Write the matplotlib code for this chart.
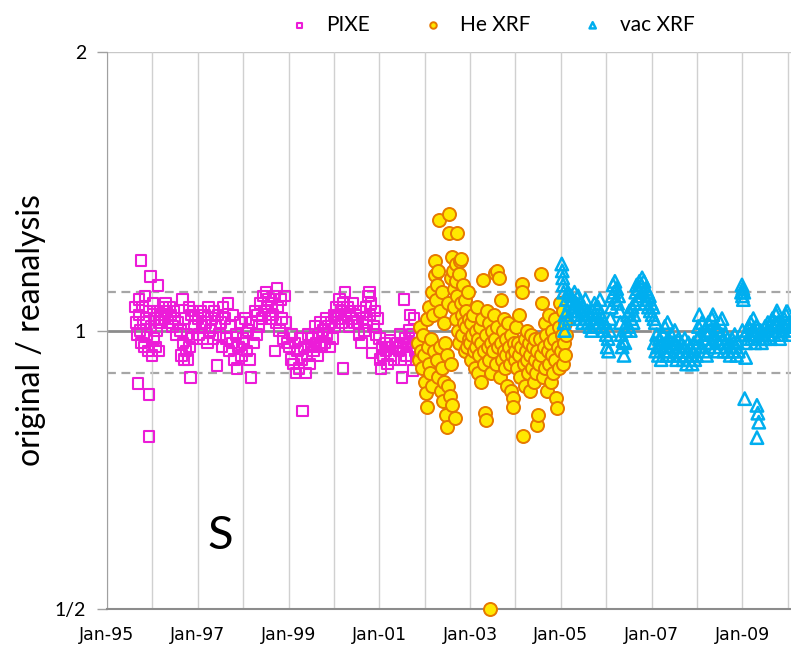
import matplotlib
matplotlib.use("Agg")
import matplotlib.pyplot as plt
from matplotlib.ticker import FixedLocator, FuncFormatter, NullFormatter

# ratio original / reanalysis for sulfur, x = decimal year
pixe = [
    (1995.62, 1.06), (1995.64, 1.02), (1995.66, 0.99), (1995.68, 0.876), (1995.70, 1.08), (1995.71, 1.04),
    (1995.73, 1.00), (1995.75, 1.19), (1995.76, 0.97), (1995.78, 1.06), (1995.80, 1.02), (1995.82, 0.96),
    (1995.84, 1.09), (1995.86, 1.03), (1995.88, 0.99), (1995.90, 0.95), (1995.92, 0.853), (1995.93, 0.768),
    (1995.94, 1.05), (1995.96, 1.144), (1995.97, 1.01), (1995.99, 0.94), (1996.01, 1.07), (1996.03, 0.98),
    (1996.05, 1.03), (1996.07, 0.96), (1996.09, 1.00), (1996.11, 1.05), (1996.13, 1.118), (1996.14, 0.95),
    (1996.16, 1.02), (1996.20, 1.04), (1996.23, 1.06), (1996.26, 1.03), (1996.29, 1.07), (1996.32, 1.05),
    (1996.35, 1.02), (1996.38, 1.06), (1996.41, 1.04), (1996.44, 1.01), (1996.47, 1.05), (1996.50, 1.03),
    (1996.53, 0.99), (1996.56, 1.02), (1996.62, 1.00), (1996.64, 0.94), (1996.66, 1.08), (1996.68, 0.97),
    (1996.70, 0.93), (1996.72, 1.03), (1996.74, 0.95), (1996.76, 0.99), (1996.78, 0.93), (1996.80, 1.06),
    (1996.82, 0.96), (1996.84, 0.89), (1996.86, 1.04), (1996.88, 0.98), (1996.90, 1.05), (1996.92, 1.01),
    (1997.00, 1.03), (1997.03, 0.99), (1997.06, 1.05), (1997.09, 1.01), (1997.12, 0.98), (1997.15, 1.04),
    (1997.18, 1.02), (1997.21, 0.97), (1997.24, 1.06), (1997.27, 1.00), (1997.30, 1.03), (1997.33, 0.98),
    (1997.36, 1.05), (1997.39, 1.01), (1997.42, 0.917), (1997.45, 1.04), (1997.48, 0.99), (1997.51, 1.02),
    (1997.53, 0.96), (1997.56, 1.06), (1997.60, 1.03), (1997.63, 0.98), (1997.66, 1.07), (1997.69, 0.95),
    (1997.72, 1.01), (1997.75, 0.97), (1997.78, 1.04), (1997.81, 0.93), (1997.84, 0.99), (1997.87, 0.91),
    (1997.90, 0.96), (1997.93, 1.02), (1997.96, 0.94), (1997.99, 0.98), (1998.02, 0.97), (1998.05, 1.03),
    (1998.08, 0.95), (1998.11, 1.00), (1998.14, 0.93), (1998.17, 0.89), (1998.20, 1.02), (1998.23, 0.97),
    (1998.26, 1.05), (1998.29, 0.99), (1998.32, 1.04), (1998.35, 1.01), (1998.38, 1.07), (1998.41, 1.03),
    (1998.44, 1.09), (1998.47, 1.05), (1998.50, 1.10), (1998.53, 1.06), (1998.56, 1.08), (1998.59, 1.03),
    (1998.62, 1.07), (1998.65, 1.04), (1998.68, 1.09), (1998.70, 0.95), (1998.72, 1.02), (1998.74, 1.11),
    (1998.77, 1.06), (1998.80, 1.00), (1998.83, 1.08), (1998.86, 1.03), (1998.89, 0.98), (1998.92, 1.09),
    (1998.95, 1.02), (1998.98, 0.97), (1999.02, 0.96), (1999.05, 0.93), (1999.08, 0.99), (1999.11, 0.92),
    (1999.14, 0.97), (1999.17, 0.90), (1999.20, 0.95), (1999.23, 0.91), (1999.26, 0.98), (1999.29, 0.93),
    (1999.31, 0.818), (1999.34, 0.96), (1999.37, 0.90), (1999.40, 0.94), (1999.43, 0.99), (1999.46, 0.92),
    (1999.49, 0.96), (1999.52, 0.98), (1999.55, 0.95), (1999.58, 1.01), (1999.61, 0.97), (1999.64, 0.94),
    (1999.67, 0.99), (1999.70, 1.02), (1999.73, 0.96), (1999.76, 1.00), (1999.79, 0.97), (1999.82, 1.03),
    (1999.85, 0.99), (1999.88, 1.01), (1999.91, 0.96), (1999.94, 1.02), (1999.97, 0.98), (2000.00, 1.04),
    (2000.03, 1.01), (2000.06, 1.06), (2000.09, 1.03), (2000.12, 1.08), (2000.15, 1.05), (2000.18, 1.02),
    (2000.20, 0.91), (2000.21, 1.07), (2000.24, 1.10), (2000.27, 1.04), (2000.30, 1.06), (2000.33, 1.01),
    (2000.36, 1.05), (2000.39, 1.03), (2000.42, 1.07), (2000.45, 1.02), (2000.48, 1.04), (2000.52, 1.02),
    (2000.55, 0.99), (2000.58, 1.05), (2000.61, 0.97), (2000.64, 1.03), (2000.67, 1.00), (2000.70, 1.06),
    (2000.73, 1.02), (2000.76, 1.09), (2000.78, 1.10), (2000.80, 1.04), (2000.82, 1.07), (2000.84, 0.945),
    (2000.87, 1.01), (2000.90, 1.05), (2000.93, 0.99), (2000.96, 1.03), (2001.00, 0.98), (2001.02, 0.93),
    (2001.04, 0.91), (2001.06, 0.96), (2001.09, 0.94), (2001.12, 0.97), (2001.15, 0.95), (2001.18, 0.92),
    (2001.21, 0.96), (2001.23, 0.975), (2001.26, 0.94), (2001.29, 0.96), (2001.32, 0.93), (2001.40, 0.97),
    (2001.43, 0.95), (2001.46, 0.99), (2001.48, 0.93), (2001.50, 0.89), (2001.52, 0.96), (2001.55, 1.08),
    (2001.57, 0.98), (2001.60, 0.94), (2001.62, 0.97), (2001.65, 1.00), (2001.67, 1.04), (2001.70, 0.96),
    (2001.72, 0.99), (2001.74, 0.905), (2001.76, 1.03), (2001.78, 0.95), (2001.80, 0.98), (2001.82, 0.93),
    (2001.85, 0.97),
]

he_xrf = [
    (2001.86, 0.97), (2001.88, 0.93), (2001.90, 1.01), (2001.92, 0.95), (2001.94, 0.91), (2001.96, 0.99),
    (2001.98, 0.94), (2002.00, 0.88), (2002.02, 0.857), (2002.04, 0.826), (2002.05, 1.03), (2002.07, 0.96),
    (2002.09, 0.92), (2002.10, 1.06), (2002.12, 0.90), (2002.14, 0.98), (2002.16, 1.10), (2002.17, 0.87),
    (2002.19, 1.04), (2002.20, 0.95), (2002.22, 1.147), (2002.23, 1.19), (2002.24, 1.08), (2002.26, 0.93),
    (2002.27, 1.12), (2002.29, 0.89), (2002.30, 1.16), (2002.31, 1.318), (2002.33, 0.96), (2002.34, 1.05),
    (2002.36, 0.86), (2002.37, 1.10), (2002.39, 0.91), (2002.40, 0.84), (2002.42, 1.02), (2002.43, 0.88),
    (2002.45, 0.97), (2002.46, 0.81), (2002.48, 0.94), (2002.49, 0.786), (2002.51, 0.87), (2002.52, 1.07),
    (2002.53, 1.335), (2002.54, 1.276), (2002.55, 0.85), (2002.57, 1.14), (2002.58, 0.92), (2002.60, 0.83),
    (2002.61, 1.20), (2002.62, 1.16), (2002.64, 1.11), (2002.65, 1.06), (2002.67, 0.805), (2002.68, 1.18),
    (2002.69, 1.03), (2002.70, 1.13), (2002.71, 1.276), (2002.72, 1.09), (2002.74, 1.00), (2002.75, 1.15),
    (2002.76, 0.97), (2002.78, 1.19), (2002.79, 1.07), (2002.80, 1.196), (2002.82, 1.04), (2002.83, 0.99),
    (2002.85, 1.12), (2002.86, 1.02), (2002.88, 0.95), (2002.89, 1.08), (2002.91, 1.01), (2002.92, 1.05),
    (2002.94, 0.96), (2002.95, 1.10), (2002.97, 0.98), (2002.98, 1.03), (2003.00, 0.97), (2003.02, 1.02),
    (2003.03, 0.93), (2003.05, 0.99), (2003.07, 1.04), (2003.08, 0.95), (2003.10, 0.91), (2003.12, 1.00),
    (2003.13, 0.96), (2003.15, 1.06), (2003.17, 0.90), (2003.18, 0.98), (2003.20, 0.94), (2003.22, 1.01),
    (2003.23, 0.97), (2003.25, 0.88), (2003.27, 1.03), (2003.28, 1.133), (2003.30, 0.95), (2003.31, 0.92),
    (2003.33, 0.814), (2003.34, 0.80), (2003.36, 0.99), (2003.38, 1.05), (2003.39, 0.96), (2003.41, 0.93),
    (2003.42, 1.02), (2003.44, 0.50), (2003.45, 0.97), (2003.47, 0.90), (2003.49, 1.00), (2003.50, 0.95),
    (2003.52, 1.04), (2003.54, 0.98), (2003.55, 1.155), (2003.57, 0.92), (2003.59, 1.16), (2003.60, 1.01),
    (2003.62, 0.96), (2003.64, 1.14), (2003.65, 0.89), (2003.67, 1.08), (2003.69, 0.97), (2003.70, 0.93),
    (2003.72, 1.00), (2003.74, 0.95), (2003.75, 1.03), (2003.77, 0.91), (2003.79, 0.98), (2003.80, 0.94),
    (2003.82, 0.87), (2003.84, 1.02), (2003.85, 0.96), (2003.87, 0.92), (2003.89, 0.86), (2003.90, 0.99),
    (2003.92, 0.94), (2003.94, 0.845), (2003.95, 0.826), (2003.97, 0.97), (2003.99, 0.93), (2004.00, 0.95),
    (2004.02, 1.01), (2004.03, 0.91), (2004.05, 0.97), (2004.07, 0.94), (2004.08, 1.04), (2004.10, 0.89),
    (2004.12, 0.96), (2004.14, 1.124), (2004.15, 1.10), (2004.16, 0.77), (2004.18, 0.92), (2004.20, 0.98),
    (2004.21, 0.87), (2004.23, 0.95), (2004.25, 1.00), (2004.26, 0.93), (2004.28, 0.90), (2004.30, 0.97),
    (2004.32, 0.86), (2004.33, 0.94), (2004.35, 0.99), (2004.37, 0.91), (2004.38, 0.96), (2004.40, 0.88),
    (2004.42, 0.93), (2004.43, 0.98), (2004.45, 0.90), (2004.47, 0.79), (2004.48, 0.95), (2004.50, 0.81),
    (2004.52, 0.92), (2004.54, 0.98), (2004.56, 1.15), (2004.57, 0.94), (2004.59, 1.07), (2004.61, 0.89),
    (2004.62, 0.96), (2004.64, 1.02), (2004.66, 0.91), (2004.68, 0.99), (2004.69, 0.86), (2004.71, 0.95),
    (2004.73, 1.04), (2004.74, 0.92), (2004.76, 0.97), (2004.78, 0.88), (2004.80, 1.00), (2004.81, 0.94),
    (2004.83, 0.90), (2004.85, 0.98), (2004.87, 1.03), (2004.88, 0.93), (2004.90, 0.845), (2004.91, 0.824),
    (2004.93, 0.96), (2004.95, 1.01), (2004.96, 0.91), (2004.98, 1.072), (2005.00, 0.95), (2005.02, 0.99),
    (2005.04, 1.05), (2005.05, 0.92), (2005.07, 0.97), (2005.09, 1.02), (2005.10, 0.94), (2005.12, 0.99),
]

vac_xrf = [
    (2005.02, 1.18), (2005.03, 1.16), (2005.04, 1.14), (2005.05, 1.12), (2005.06, 1.10), (2005.07, 1.02),
    (2005.08, 1.00), (2005.09, 1.04), (2005.12, 1.08), (2005.14, 1.05), (2005.16, 1.10), (2005.18, 1.03),
    (2005.20, 1.07), (2005.22, 1.09), (2005.24, 1.05), (2005.26, 1.08), (2005.28, 1.06), (2005.30, 1.10),
    (2005.32, 1.04), (2005.34, 1.07), (2005.36, 1.05), (2005.38, 1.09), (2005.40, 1.06), (2005.42, 1.03),
    (2005.44, 1.07), (2005.46, 1.05), (2005.48, 1.02), (2005.50, 1.06), (2005.52, 1.04), (2005.54, 1.08),
    (2005.56, 1.03), (2005.58, 1.05), (2005.60, 1.02), (2005.62, 1.04), (2005.64, 1.01), (2005.66, 1.03),
    (2005.68, 1.00), (2005.70, 1.05), (2005.72, 1.02), (2005.74, 1.07), (2005.76, 1.03), (2005.78, 1.01),
    (2005.80, 1.04), (2005.82, 1.06), (2005.84, 1.02), (2005.86, 1.08), (2005.88, 1.04), (2005.90, 1.01),
    (2005.92, 1.03), (2005.94, 1.00), (2005.96, 1.02), (2006.00, 0.99), (2006.02, 0.96), (2006.04, 0.98),
    (2006.05, 0.95), (2006.07, 1.00), (2006.09, 1.03), (2006.11, 1.06), (2006.13, 1.09), (2006.15, 1.12),
    (2006.17, 1.10), (2006.19, 1.13), (2006.21, 1.08), (2006.23, 1.11), (2006.25, 1.07), (2006.27, 1.09),
    (2006.29, 1.05), (2006.31, 1.02), (2006.33, 0.99), (2006.35, 0.96), (2006.37, 0.975), (2006.39, 0.94),
    (2006.41, 0.97), (2006.43, 1.00), (2006.45, 1.02), (2006.47, 1.04), (2006.49, 1.01), (2006.51, 1.05),
    (2006.53, 1.00), (2006.55, 1.03), (2006.57, 1.06), (2006.59, 1.02), (2006.61, 1.04), (2006.63, 1.07),
    (2006.65, 1.10), (2006.67, 1.12), (2006.69, 1.08), (2006.71, 1.11), (2006.73, 1.13), (2006.75, 1.09),
    (2006.77, 1.12), (2006.79, 1.14), (2006.81, 1.10), (2006.83, 1.13), (2006.85, 1.07), (2006.87, 1.11),
    (2006.89, 1.08), (2006.91, 1.10), (2006.93, 1.06), (2006.95, 1.09), (2006.97, 1.05), (2006.99, 1.07),
    (2007.01, 1.04), (2007.03, 1.06), (2007.05, 1.03), (2007.08, 1.02), (2007.06, 0.97), (2007.09, 0.95),
    (2007.11, 0.99), (2007.13, 0.96), (2007.15, 0.94), (2007.17, 0.98), (2007.19, 0.96), (2007.21, 0.93),
    (2007.23, 0.97), (2007.25, 0.99), (2007.27, 0.95), (2007.29, 1.01), (2007.31, 0.97), (2007.33, 0.94),
    (2007.35, 1.02), (2007.37, 0.98), (2007.39, 0.95), (2007.41, 0.97), (2007.43, 0.99), (2007.45, 0.96),
    (2007.47, 0.94), (2007.49, 0.97), (2007.51, 1.00), (2007.53, 0.96), (2007.55, 0.93), (2007.57, 0.95),
    (2007.59, 0.98), (2007.61, 0.96), (2007.63, 0.94), (2007.65, 0.97), (2007.67, 0.95), (2007.69, 0.93),
    (2007.71, 0.96), (2007.73, 0.98), (2007.75, 0.94), (2007.77, 0.92), (2007.79, 0.95), (2007.81, 0.97),
    (2007.83, 0.93), (2007.85, 0.96), (2007.87, 0.94), (2007.89, 0.92), (2007.91, 0.95), (2007.93, 0.97),
    (2007.95, 0.93), (2007.97, 0.96), (2007.99, 0.94), (2008.01, 0.98), (2008.03, 1.01), (2008.05, 1.04),
    (2008.07, 0.99), (2008.09, 0.96), (2008.11, 1.02), (2008.13, 0.98), (2008.15, 0.95), (2008.17, 1.00),
    (2008.19, 0.97), (2008.21, 0.94), (2008.23, 0.99), (2008.25, 1.02), (2008.27, 0.96), (2008.29, 1.00),
    (2008.31, 0.97), (2008.33, 1.03), (2008.35, 1.04), (2008.37, 0.99), (2008.39, 0.96), (2008.41, 1.01),
    (2008.43, 0.98), (2008.45, 0.95), (2008.47, 1.00), (2008.49, 0.97), (2008.51, 1.02), (2008.53, 0.99),
    (2008.55, 1.03), (2008.57, 0.98), (2008.59, 0.95), (2008.61, 0.97), (2008.63, 0.99), (2008.65, 0.96),
    (2008.67, 0.98), (2008.69, 0.95), (2008.71, 0.97), (2008.73, 0.94), (2008.75, 0.96), (2008.77, 0.98),
    (2008.79, 0.95), (2008.81, 0.97), (2008.83, 0.99), (2008.85, 0.96), (2008.87, 0.94), (2008.89, 0.97),
    (2008.91, 0.95), (2008.98, 1.10), (2008.99, 1.12), (2009.00, 1.09), (2009.01, 1.11), (2009.02, 1.08),
    (2009.03, 1.10), (2009.00, 1.00), (2009.05, 0.844), (2009.07, 0.935), (2009.06, 0.99), (2009.08, 0.97),
    (2009.10, 1.00), (2009.12, 0.98), (2009.14, 1.01), (2009.16, 0.99), (2009.18, 1.02), (2009.20, 0.98),
    (2009.22, 1.00), (2009.24, 1.03), (2009.26, 0.99), (2009.28, 0.97), (2009.30, 1.01), (2009.32, 0.830),
    (2009.34, 0.814), (2009.36, 0.796), (2009.32, 0.766), (2009.38, 0.98), (2009.40, 1.00), (2009.42, 0.97),
    (2009.44, 0.99), (2009.46, 0.98), (2009.48, 0.99), (2009.50, 1.01), (2009.52, 0.98), (2009.54, 1.00),
    (2009.56, 1.02), (2009.58, 0.99), (2009.60, 1.01), (2009.62, 0.98), (2009.64, 1.00), (2009.66, 1.03),
    (2009.68, 1.01), (2009.70, 0.99), (2009.72, 1.02), (2009.74, 1.04), (2009.76, 1.05), (2009.78, 1.02),
    (2009.80, 1.00), (2009.82, 0.98), (2009.84, 1.01), (2009.86, 0.99), (2009.88, 1.02), (2009.90, 1.00),
    (2009.92, 1.03), (2009.94, 1.01), (2009.96, 1.04), (2009.98, 1.05), (2010.00, 1.02), (2010.02, 1.00),
    (2010.04, 0.99), (2010.06, 1.01),
]

band = [0.9, 1.1]          # dashed +/- lines
y_ticks = [0.5, 1, 2]
y_tick_labels = ["1/2", "1", "2"]
label_years = list(range(1995, 2010, 2))
grid_years = list(range(1995, 2011))

plt.rcParams['font.family'] = ['Lato', 'DejaVu Sans']

fig = plt.figure(figsize=(7.91, 6.52), dpi=100)
ax = fig.add_axes([107 / 791, 43 / 652, 1 - 107 / 791, 557 / 652])

ax.set_yscale('log', base=2)
ax.set_ylim(0.5, 2)
ax.set_xlim(1995, 2010.07)

# reference lines
ax.axhline(1, color='#8c8c8c', lw=2, zorder=1)
for b in band:
    ax.axhline(b, color='#a6a6a6', lw=1.6, ls=(0, (4, 2.5)), zorder=1)

px, py = zip(*pixe)
hx, hy = zip(*he_xrf)
vx, vy = zip(*vac_xrf)

ax.scatter(px, py, marker='s', s=56, facecolors='none', edgecolors='#ec1cd8',
           linewidths=1.5, label='PIXE', zorder=3)
ax.scatter(hx, hy, marker='o', s=88, facecolors='#ffe800', edgecolors='#e67800',
           linewidths=1.4, label='He XRF', zorder=4, clip_on=False)
ax.scatter(vx, vy, marker='^', s=80, facecolors='none', edgecolors='#00aeef',
           linewidths=1.8, label='vac XRF', zorder=5)

# axes cosmetics
ax.xaxis.set_major_locator(FixedLocator(label_years))
ax.xaxis.set_minor_locator(FixedLocator(grid_years))
ax.xaxis.set_major_formatter(FuncFormatter(lambda v, p: "Jan-%02d" % (int(round(v)) % 100)))
ax.xaxis.set_minor_formatter(NullFormatter())
ax.grid(True, which='both', axis='x', color='#d0d0d0', lw=1)
ax.tick_params(axis='x', which='both', length=0, pad=12, labelsize=12.5)
for lab in ax.get_xticklabels():
    lab.set_family(['Liberation Sans Narrow', 'DejaVu Sans'])

ax.yaxis.set_major_locator(FixedLocator(y_ticks))
ax.yaxis.set_major_formatter(FuncFormatter(lambda v, p: y_tick_labels[y_ticks.index(v)] if v in y_ticks else ""))
ax.yaxis.set_minor_locator(FixedLocator([]))
ax.tick_params(axis='y', length=7, width=1, color='#a0a0a0', pad=8, labelsize=14)
ax.axhline(2, color='#c8c8c8', lw=1, zorder=1)

for side in ['top', 'right']:
    ax.spines[side].set_visible(False)
ax.spines['left'].set_color('#a0a0a0')
ax.spines['bottom'].set_color('#8c8c8c')
ax.spines['bottom'].set_linewidth(1.5)

ax.set_ylabel('original / reanalysis', fontsize=23, labelpad=6)
ax.text(1997.5, 0.6, 'S', fontsize=34, ha='center', va='center')

fig.legend(loc='center', bbox_to_anchor=(0.615, 0.962), ncol=3, frameon=False,
           fontsize=15, markerscale=0.5, handletextpad=0.3, columnspacing=2.0)

fig.savefig('out.png', dpi=100)
